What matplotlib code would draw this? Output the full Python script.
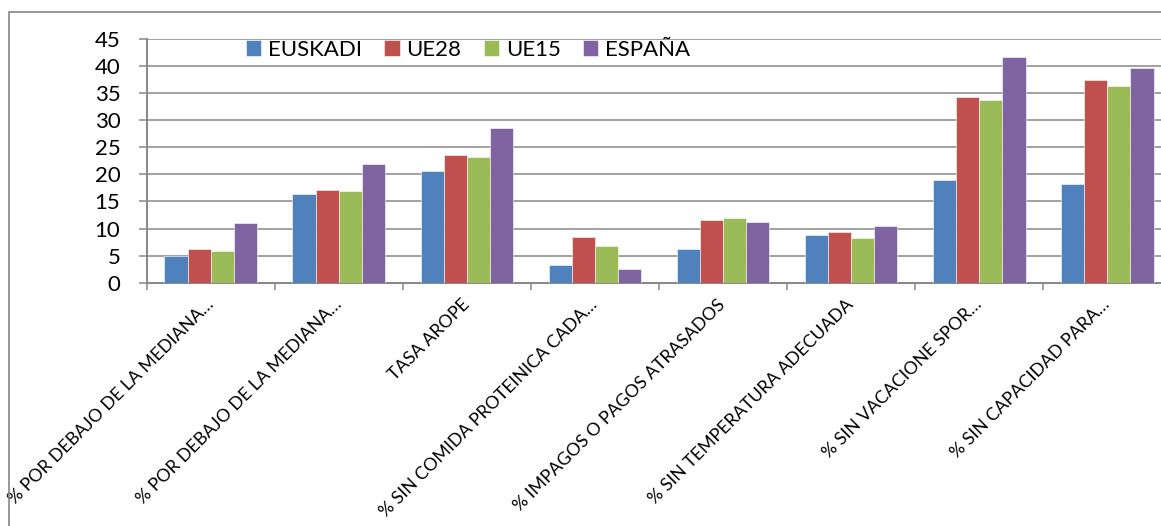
import matplotlib
matplotlib.use("Agg")
import matplotlib.pyplot as plt
import numpy as np
from matplotlib.patches import Rectangle

categories = [
    "% POR DEBAJO DE LA MEDIANA…",
    "% POR DEBAJO DE LA MEDIANA…",
    "TASA AROPE",
    "% SIN COMIDA PROTEINICA CADA…",
    "% IMPAGOS O PAGOS ATRASADOS",
    "% SIN TEMPERATURA ADECUADA",
    "% SIN VACACIONE SPOR…",
    "% SIN CAPACIDAD PARA…",
]
series_names = ["EUSKADI", "UE28", "UE15", "ESPAÑA"]
euskadi = [5.0, 16.3, 20.6, 3.3, 6.2, 8.8, 18.9, 18.2]
ue28 = [6.2, 17.2, 23.6, 8.4, 11.5, 9.3, 34.3, 37.4]
ue15 = [5.9, 16.9, 23.3, 6.8, 11.9, 8.3, 33.7, 36.3]
espana = [11.1, 22.0, 28.6, 2.5, 11.3, 10.5, 41.6, 39.7]
yticks = [0, 5, 10, 15, 20, 25, 30, 35, 40, 45]

colors = ["#4F81BD", "#C0504D", "#9BBB59", "#8064A2"]
plt.rcParams['font.family'] = ['Lato', 'DejaVu Sans']

W, H = 1161, 526
fig = plt.figure(figsize=(W / 100, H / 100), dpi=100)

# outer chart frame
frame = Rectangle((8.5 / W, -0.1), 1.2, 1 - 12 / H + 0.1, transform=fig.transFigure,
                  fill=False, edgecolor="#868686", linewidth=1.2, clip_on=False)
fig.patches.append(frame)

left = 146.7 / W
right = 1171.3 / W
bottom = 1 - 282.7 / H
top = 1 - 39.0 / H
ax = fig.add_axes([left, bottom, right - left, top - bottom])

n = len(categories)
x = np.arange(n)
bw = 0.181
all_series = [euskadi, ue28, ue15, espana]
for i, (vals, name, c) in enumerate(zip(all_series, series_names, colors)):
    ax.bar(x + (i - 1.5) * bw, vals, width=bw, color=c, label=name,
           edgecolor="white", linewidth=0.4, zorder=3)

ax.set_xlim(-0.5, n - 0.5)
ax.set_ylim(0, 45)
ax.set_yticks(yticks)
ax.set_yticklabels([str(t) for t in yticks], fontsize=16)
ax.yaxis.grid(True, color="#878787", linewidth=1.1, zorder=0)
ax.set_axisbelow(True)

for s in ["top", "right"]:
    ax.spines[s].set_visible(False)
for s in ["left", "bottom"]:
    ax.spines[s].set_color("#878787")
    ax.spines[s].set_linewidth(1.4)

ax.tick_params(axis="y", length=6, width=1.1, color="#878787", pad=13)
ax.set_xticks(np.arange(n + 1) - 0.5, minor=False)
ax.set_xticklabels([])
ax.tick_params(axis="x", which="major", length=5, width=1.1, color="#878787")
ax.set_xticks(x, minor=True)
ax.set_xticklabels(categories, minor=True, rotation=45, ha="right",
                   rotation_mode="anchor", fontsize=12.8, va="center")
ax.tick_params(axis="x", which="minor", length=0, pad=14)

leg = ax.legend(loc="center", bbox_to_anchor=(468 / W, 1 - 50 / H),
                bbox_transform=fig.transFigure, ncol=4, frameon=False,
                fontsize=16, handlelength=0.7, handleheight=0.7,
                handletextpad=0.3, columnspacing=1.0, borderaxespad=0)

fig.savefig("out.png", dpi=100)
